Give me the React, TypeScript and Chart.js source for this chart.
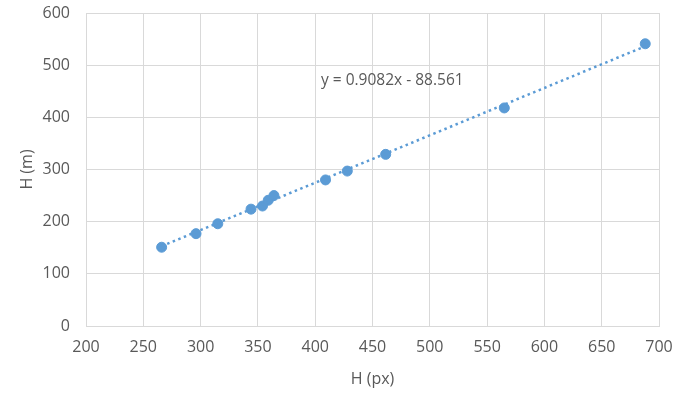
import React, { useEffect, useRef } from "react";
import { Chart, registerables } from "chart.js";

Chart.register(...registerables);

const heightPx = [266, 296, 315, 344, 354, 359, 364, 409, 428, 461.5, 565, 688];
const heightM = [151, 177, 196, 224, 230, 241, 250, 280, 297, 329, 418, 541];
const slope = 0.9082;
const intercept = -88.561;
const equationLabel = "y = 0.9082x - 88.561";
const xTitle = "H (px)";
const yTitle = "H (m)";

const BLUE = "#5B9BD5";
const GRID = "#d9d9d9";
const TEXT = "#595959";
const FONT = "'Open Sans', sans-serif";

export default function App() {
  const ref = useRef<HTMLCanvasElement | null>(null);
  useEffect(() => {
    if (!ref.current) return;
    const xMin = Math.min(...heightPx);
    const xMax = Math.max(...heightPx);
    const trend = [xMin, xMax].map((x) => ({ x, y: slope * x + intercept }));
    const labelPlugin = {
      id: "eqLabel",
      afterDatasetsDraw(chart: any) {
        const ctx = chart.ctx;
        ctx.save();
        ctx.font = `15.5px ${FONT}`;
        ctx.fillStyle = TEXT;
        ctx.textBaseline = "middle";
        ctx.textAlign = "left";
        ctx.fillText(equationLabel, 321, 81);
        ctx.restore();
      },
    };
    const zeroPad = (s: any) => {
      s.paddingTop = 0;
      s.paddingBottom = 0;
      s.paddingLeft = 0;
      s.paddingRight = 0;
    };
    const chart = new Chart(ref.current, {
      type: "scatter",
      data: {
        datasets: [
          {
            label: "trend",
            data: trend,
            showLine: true,
            borderColor: BLUE,
            borderWidth: 2.5,
            borderDash: [2.5, 3.5],
            pointRadius: 0,
            fill: false,
          } as any,
          {
            label: "data",
            data: heightPx.map((x, i) => ({ x, y: heightM[i] })),
            backgroundColor: BLUE,
            borderColor: BLUE,
            pointRadius: 5,
            pointHoverRadius: 5,
            showLine: false,
          },
        ],
      },
      plugins: [labelPlugin],
      options: {
        animation: false,
        responsive: false,
        maintainAspectRatio: false,
        layout: { padding: { top: 13, right: 21, left: 0, bottom: 0 } },
        plugins: { legend: { display: false }, tooltip: { enabled: false } },
        scales: {
          x: {
            type: "linear",
            min: 200,
            max: 700,
            afterFit: (s: any) => {
              s.height = 73;
              zeroPad(s);
            },
            ticks: { stepSize: 50, color: TEXT, font: { family: FONT, size: 16 }, padding: 12 },
            grid: { color: GRID, lineWidth: 1, drawTicks: false },
            border: { color: GRID, width: 1 },
            title: {
              display: true,
              text: xTitle,
              color: TEXT,
              font: { family: FONT, size: 16 },
              padding: { top: 0, bottom: 10 },
            },
          },
          y: {
            type: "linear",
            min: 0,
            max: 600,
            afterFit: (s: any) => {
              s.width = 86;
              zeroPad(s);
            },
            ticks: { stepSize: 100, color: TEXT, font: { family: FONT, size: 16 }, padding: 16 },
            grid: { color: GRID, lineWidth: 1, drawTicks: false },
            border: { color: GRID, width: 1 },
            title: {
              display: true,
              text: yTitle,
              color: TEXT,
              font: { family: FONT, size: 16 },
              padding: 18,
            },
          },
        },
      },
    });
    return () => chart.destroy();
  }, []);
  return (
    <div style={{ position: "absolute", left: 0, top: 0, width: 680, height: 399, background: "#fff" }}>
      <canvas ref={ref} width={680} height={399} style={{ width: 680, height: 399 }} />
    </div>
  );
}
